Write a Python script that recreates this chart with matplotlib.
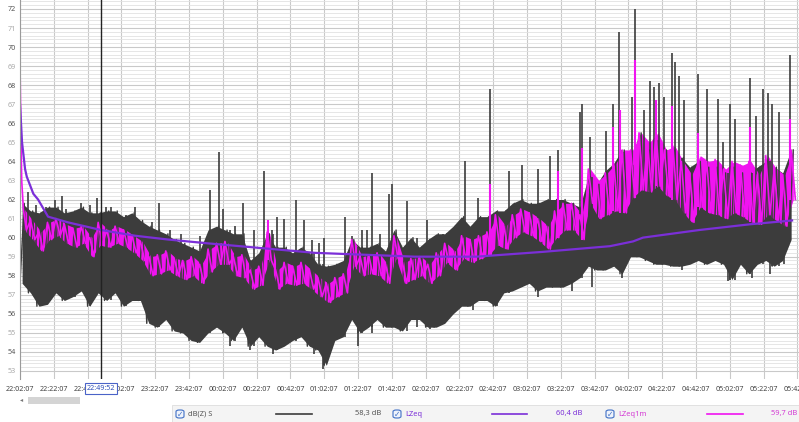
import matplotlib
matplotlib.use("Agg")
import matplotlib.pyplot as plt
from matplotlib.patches import Rectangle, FancyBboxPatch
from matplotlib.lines import Line2D

plt.rcParams['font.family'] = ['Noto Sans', 'DejaVu Sans']

# time axis in minutes after 22:02:07, one bin every 5 minutes
bin_minutes = [5 * i for i in range(92)]

# dB(Z) S  - upper body and lower extremes per bin
gray_hi = [61.8, 61.4, 61.3, 61.6, 61.6, 61.3, 61.4, 61.6, 61.3, 61.3,
           61.4, 61.4, 61.1, 61.3, 60.9, 60.6, 60.4, 60.2, 59.9, 59.7,
           59.5, 59.3, 60.4, 60.6, 60.4, 60.2, 60.2, 58.8, 59.2, 60.2,
           59.5, 59.5, 59.2, 59.5, 59.2, 58.6, 58.5, 58.6, 58.8, 59.9,
           59.5, 59.5, 59.7, 59.3, 60.4, 59.5, 60.0, 59.5, 59.9, 60.2,
           60.2, 60.6, 61.1, 60.6, 61.1, 61.1, 61.4, 61.4, 61.8, 62.0,
           61.8, 61.8, 62.0, 62.0, 62.0, 61.8, 61.6, 63.2, 62.8, 63.5,
           63.9, 64.6, 63.8, 65.5, 64.6, 65.1, 64.6, 64.6, 64.2, 63.7,
           64.0, 63.7, 63.7, 63.4, 63.7, 63.4, 63.4, 63.7, 64.0, 63.7,
           63.4, 64.6]
gray_lo = [57.6, 57.1, 56.4, 56.5, 57.1, 56.7, 56.9, 57.2, 56.4, 57.1,
           56.7, 57.1, 56.4, 56.7, 56.7, 55.5, 55.3, 55.7, 55.1, 55.0,
           54.6, 54.5, 55.0, 55.3, 55.0, 54.6, 55.3, 54.3, 54.8, 54.3,
           54.1, 54.3, 54.6, 54.8, 54.3, 54.1, 53.3, 54.6, 54.8, 55.7,
           55.0, 55.3, 55.7, 55.3, 55.3, 55.1, 55.7, 55.7, 55.3, 55.3,
           55.5, 56.0, 56.4, 56.4, 56.7, 56.7, 56.4, 57.1, 57.2, 57.4,
           57.6, 57.2, 57.4, 57.4, 57.4, 57.6, 57.9, 58.5, 58.3, 58.3,
           58.5, 58.1, 59.0, 59.0, 58.8, 58.6, 58.6, 58.5, 58.5, 58.6,
           58.8, 58.6, 58.8, 58.6, 57.8, 58.6, 58.1, 58.6, 58.8, 58.5,
           58.8, 59.9]

# upward peaks of dB(Z) S (minutes, dB)
spike_minutes = [4.7, 9.7, 15.6, 20.5, 24.9, 27.4, 32.3, 36.3, 41.2, 45.6,
                 51.1, 54.0, 62.9, 67.9, 78.3, 82.2, 88.6, 95.5, 106.3, 112.4,
                 117.7, 120.3, 127.2, 131.9, 138.6, 144.3, 149.3, 152.1, 156.4, 163.3,
                 168.2, 172.6, 176.9, 180.1, 192.3, 196.3, 202.2, 205.1, 208.3, 213.0,
                 218.3, 220.1, 229.0, 240.8, 263.3, 271.0, 278.1, 289.3, 297.0,
                 306.5, 313.6, 318.3, 331.3, 332.5, 337.3, 346.7, 350.9, 354.4, 362.1,
                 363.9, 369.2, 372.8, 375.1, 378.1, 381.1, 385.8, 387.6, 389.9, 392.9,
                 401.2, 406.5, 413.0, 416.0, 420.1, 423.1, 432.0, 435.5, 439.7, 442.6,
                 445.0, 449.1, 455.6]
spike_db = [62.4, 61.7, 61.6, 62.0, 62.2, 61.5, 61.3, 61.8, 61.7, 62.1,
            61.6, 61.6, 61.2, 61.6, 60.8, 61.8, 60.4, 60.2, 60.1, 62.5,
            64.5, 61.5, 60.6, 61.8, 60.4, 63.5, 60.4, 61.1, 61.0, 62.0,
            60.9, 59.9, 59.7, 60.0, 61.1, 60.1, 60.4, 60.4, 63.4, 60.2,
            62.3, 62.8, 61.9, 60.9, 64.0, 62.1, 67.8, 63.5, 63.8,
            63.6, 64.3, 64.6, 66.6, 67.0, 65.3, 65.6, 67.0, 70.8, 67.4,
            72.0, 66.7, 68.2, 67.9, 68.1, 67.4, 69.7, 69.2, 68.5, 67.2,
            68.6, 67.8, 67.3, 65.0, 67.0, 66.2, 68.4, 66.4, 67.8, 67.6,
            67.0, 66.6, 69.6]

# downward dips of dB(Z) S (minutes, dB)
dip_minutes = [124.3, 136.1, 149.9, 174.1, 179.1, 200.2, 208.1, 234.7, 242.6, 250.5,
               268.2, 282.1, 306.7, 326.4, 338.3, 356.0, 391.5, 418.7, 433.3, 443.8, 452.0]
dip_db = [54.3, 54.1, 53.9, 53.9, 53.1, 54.3, 55.0, 55.3, 55.2, 55.5,
          56.2, 56.4, 56.9, 57.2, 57.4, 57.9, 58.3, 57.7, 57.9, 58.1, 58.6]

# LZeq1m - upper and lower swing per bin, start transient and peaks
mag_start_min = [0.0, 0.5, 1.0, 2.0]
mag_start_db = [69.2, 65.5, 63.0, 61.5]
mag_hi = [61.5, 60.9, 60.3, 60.8, 61.0, 60.7, 60.5, 60.6, 60.0, 60.8,
          60.4, 60.6, 60.4, 60.1, 59.8, 59.0, 59.1, 59.3, 58.9, 58.8,
          59.0, 58.6, 59.4, 59.7, 59.8, 59.0, 59.1, 58.3, 58.5, 60.3,
          58.3, 58.7, 58.5, 58.7, 58.3, 57.9, 57.6, 57.9, 58.1, 59.9,
          59.0, 59.1, 59.2, 58.6, 60.1, 58.7, 58.9, 59.0, 58.6, 59.2,
          59.7, 59.3, 60.1, 59.9, 60.1, 60.3, 61.2, 60.6, 61.2, 61.5,
          61.3, 61.0, 60.6, 61.4, 61.8, 61.8, 61.2, 63.6, 63.0, 63.4,
          63.9, 64.6, 64.6, 65.5, 65.0, 65.5, 64.6, 64.8, 64.0, 63.3,
          64.3, 64.0, 64.1, 63.6, 64.0, 63.8, 64.0, 63.3, 64.3, 63.6,
          63.3, 64.6]
mag_lo = [60.4, 59.9, 59.3, 59.9, 60.1, 59.7, 59.5, 59.7, 59.0, 59.6,
          59.5, 59.7, 59.5, 59.2, 58.8, 58.0, 58.1, 58.3, 58.0, 57.8,
          58.0, 57.6, 58.2, 58.6, 58.6, 58.0, 57.9, 57.3, 57.5, 58.8,
          57.3, 57.6, 57.5, 57.6, 57.3, 56.9, 56.6, 56.9, 57.1, 58.5,
          58.0, 58.1, 58.0, 57.6, 58.9, 57.6, 57.8, 58.0, 57.6, 58.0,
          58.7, 58.3, 58.9, 58.7, 58.9, 59.1, 59.6, 59.4, 60.0, 60.3,
          60.1, 59.8, 59.4, 60.0, 60.4, 60.4, 59.9, 61.8, 61.0, 61.2,
          61.4, 61.3, 62.1, 62.5, 62.4, 62.7, 62.2, 62.0, 61.3, 60.8,
          61.6, 61.3, 61.2, 61.0, 61.3, 61.1, 60.8, 60.7, 61.2, 60.9,
          60.6, 62.0]
mag_peak_min = [147.0, 278.3, 318.3, 332.5, 350.9, 355.0, 364.0, 376.0, 386.0,
                401.2, 432.0, 455.6]
mag_peak_db = [60.9, 62.8, 63.5, 64.7, 65.8, 66.7, 69.3, 67.2, 66.9,
               65.5, 65.8, 66.2]

# LZeq - running average
lzeq_min = [0, 0.6, 1.2, 3.0, 4.0, 7.9, 10.7, 16.6, 28.4, 47.9, 68.0, 87.6,
            111.0, 174.6, 233.7, 270.0, 309.0, 349.0, 362.7, 368.6, 402.0, 432.0, 456.8]
lzeq_db = [67.0, 66.0, 65.0, 63.6, 63.2, 62.3, 62.0, 61.1, 60.8, 60.4, 60.1, 59.9,
           59.7, 59.2, 59.0, 59.0, 59.25, 59.55, 59.8, 60.0, 60.4, 60.7, 60.9]

tick_minutes = [20 * k for k in range(24)]
tick_labels = ['22:02:07', '22:22:07', '22:42:07', '23:02:07', '23:22:07', '23:42:07',
               '00:02:07', '00:22:07', '00:42:07', '01:02:07', '01:22:07', '01:42:07',
               '02:02:07', '02:22:07', '02:42:07', '03:02:07', '03:22:07', '03:42:07',
               '04:02:07', '04:22:07', '04:42:07', '05:02:07', '05:22:07', '05:42:07']
y_ticks = list(range(53, 73))

cursor_min = 47.75
cursor_label = '22:49:52'

legend_names = ['dB(Z) S', 'LZeq', 'LZeq1m']
legend_values = ['58,3 dB', '60,4 dB', '59,7 dB']

GRAY = '#3c3c3c'
PURPLE = '#7b2fd8'
MAGENTA = '#f014f0'


def nearest(arr, t):
    return arr[min(int(t // 5), len(arr) - 1)]


# zigzag sequences: lower point, then upper point half a bin later
gx, gy = [], []
for t, lo, hi in zip(bin_minutes, gray_lo, gray_hi):
    gx += [t, t + 2.5]
    gy += [lo, hi]
gmid = [t + 1.25 for t in bin_minutes]

mx = list(mag_start_min)
my = list(mag_start_db)
for t, lo, hi in zip(bin_minutes, mag_lo, mag_hi):
    if t + 1.25 > mx[-1]:
        mx.append(t + 1.25)
        my.append(hi)
    mx.append(t + 3.75)
    my.append(lo)

fig = plt.figure(figsize=(7.99, 4.22), dpi=100)
fig.patch.set_facecolor('white')
ax = fig.add_axes([20 / 799, 1 - 379 / 422, 779 / 799, 379 / 422])
ax.set_xlim(0, 460.9)
ax.set_ylim(52.58, 72.47)

# grid
ax.set_yticks(y_ticks)
ax.set_yticks([53 + 0.2 * k for k in range(98)], minor=True)
ax.set_xticks(tick_minutes)
ax.grid(True, which='major', axis='both', color='#c9c9c9', lw=0.8)
ax.grid(True, which='minor', axis='y', color='#e2e2e2', lw=0.6)
ax.set_axisbelow(True)

# dB(Z) S: body band, serrated edges, peaks and dips
ax.fill_between(gmid, gray_lo, gray_hi, color=GRAY, lw=0)
ax.plot(gx, gy, color=GRAY, lw=1.0)
ax.vlines(spike_minutes, [nearest(gray_lo, t) for t in spike_minutes], spike_db,
          color=GRAY, lw=1.2)
ax.vlines(dip_minutes, dip_db, [nearest(gray_hi, t) for t in dip_minutes],
          color=GRAY, lw=1.2)

# LZeq1m
ax.fill_between([t + 2.5 for t in bin_minutes], mag_lo, mag_hi, color=MAGENTA, lw=0)
ax.plot(mx, my, color=MAGENTA, lw=1.2)
ax.vlines(mag_peak_min, [nearest(mag_lo, t) for t in mag_peak_min], mag_peak_db,
          color=MAGENTA, lw=1.5)

ax.plot(lzeq_min, lzeq_db, color=PURPLE, lw=1.6)
ax.axvline(cursor_min, color='#222222', lw=1.0)

for s in ['top', 'right', 'bottom']:
    ax.spines[s].set_visible(False)
ax.spines['left'].set_color('#9a9a9a')

ax.tick_params(axis='both', which='both', length=0)
ax.tick_params(axis='y', pad=3, labelsize=5.2)
ax.tick_params(axis='x', pad=5, labelsize=5.2, labelcolor='#444444')
ax.set_xticklabels(tick_labels)
ax.set_yticklabels([str(v) for v in y_ticks])
for lab, v in zip(ax.get_yticklabels(), y_ticks):
    lab.set_color('#555555' if v % 2 == 0 else '#a8a8a8')

# cursor time label
ax.text(cursor_min, -0.0245, cursor_label, transform=ax.get_xaxis_transform(),
        ha='center', va='center', fontsize=5.2, color='#2f4fb8', clip_on=False,
        bbox=dict(boxstyle='square,pad=0.25', fc='white', ec='#4a63c8', lw=0.8))

# scroll bar
fig.text(22 / 799, 1 - 400 / 422, '◂', fontsize=4.5, color='#777777',
         ha='center', va='center', family=['DejaVu Sans'])
fig.patches.append(Rectangle((28 / 799, 1 - 404 / 422), 52 / 799, 7 / 422,
                             transform=fig.transFigure, fc='#d4d4d4', ec='none'))

# legend strip
fig.patches.append(Rectangle((172 / 799, 0), 627 / 799, 17 / 422,
                             transform=fig.transFigure, fc='#f4f4f4', ec='#dddddd', lw=0.6))
ly = 1 - 414 / 422
box_x = [176, 393, 606]
line_x = [(276, 312), (492, 527), (707, 743)]
value_x = [381, 582, 797]
colors = [GRAY, PURPLE, MAGENTA]
name_colors = ['#555555', PURPLE, '#d43cd4']
for bx, (l0, l1), vx, name, val, c, nc in zip(box_x, line_x, value_x, legend_names,
                                               legend_values, colors, name_colors):
    fig.patches.append(FancyBboxPatch((bx / 799, 1 - 418 / 422), 8 / 799, 8 / 422,
                                      boxstyle='round,pad=0,rounding_size=0.004',
                                      transform=fig.transFigure, fc='#eef3fb',
                                      ec='#3f6fc6', lw=0.8))
    fig.text((bx + 4) / 799, 1 - 414.3 / 422, '✓', fontsize=5.5, color='#3f6fc6',
             ha='center', va='center', family=['DejaVu Sans'])
    fig.text((bx + 12) / 799, ly, name, fontsize=5.4, color=nc, ha='left', va='center')
    fig.lines.append(Line2D([l0 / 799, l1 / 799], [ly, ly], transform=fig.transFigure,
                            color=c, lw=1.2))
    fig.text(vx / 799, ly, val, fontsize=5.4, color=nc if c != GRAY else '#555555',
             ha='right', va='center')

fig.savefig('out.png', dpi=100, facecolor='white')
